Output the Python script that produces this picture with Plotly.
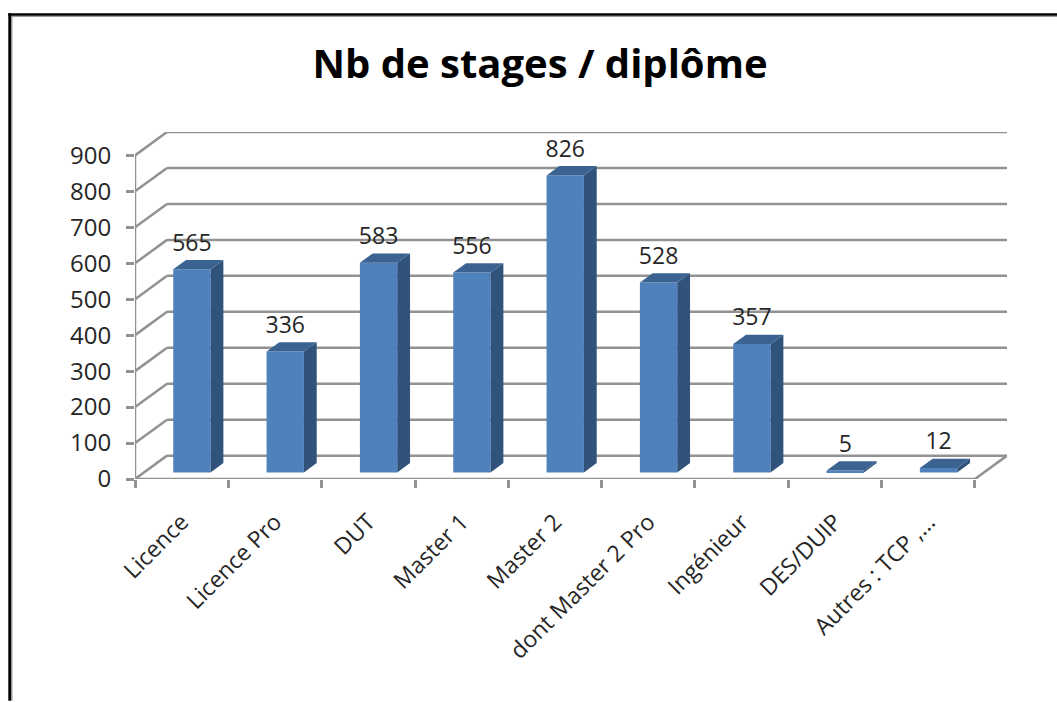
import plotly.graph_objects as go

categories = ["Licence", "Licence Pro", "DUT", "Master 1", "Master 2",
              "dont Master 2 Pro", "Ingénieur", "DES/DUIP", "Autres : TCP ,..."]
values = [565, 336, 583, 556, 826, 528, 357, 5, 12]
y_ticks = [0, 100, 200, 300, 400, 500, 600, 700, 800, 900]
title_text = "Nb de stages / diplôme"

W, H = 1057, 702
L, R, T, B = 135, 1007, 131.5, 479.5
FONT = "Open Sans"
TXT = "#262626"
GRID = "#929292"
FRONT, SIDE, TOP = "#4f81bd", "#31527b", "#3a6391"

# oblique projection of the depth axis, in data units
DEPTH_X, DEPTH_Y = 0.343, 65.0
BAR_W = 0.40
F0, F1 = 0.32, 0.72   # bar front / back position in the depth
X_MIN, X_MAX = -0.5, 8.843
Y_MAX = 965
n = len(categories)
X_END = n - 0.5

fig = go.Figure()
xs = list(range(n))
base = F0 * DEPTH_Y - 2.5
off = F0 * DEPTH_X
ddx = (F1 - F0) * DEPTH_X
ddy = (F1 - F0) * DEPTH_Y

fig.add_trace(go.Bar(x=[i + off for i in xs], y=values, base=[base] * n, width=BAR_W,
                     marker=dict(color=FRONT, line=dict(width=0)), hoverinfo="skip"))

for i, v in zip(xs, values):
    x0 = i + off - BAR_W / 2
    x1 = i + off + BAR_W / 2
    top = base + v
    fig.add_trace(go.Scatter(x=[x1, x1 + ddx, x1 + ddx, x1, x1],
                             y=[base, base + ddy, top + ddy, top, base],
                             mode="lines", fill="toself", fillcolor=SIDE,
                             line=dict(width=0), hoverinfo="skip"))
    fig.add_trace(go.Scatter(x=[x0, x1, x1 + ddx, x0 + ddx, x0],
                             y=[top, top, top + ddy, top + ddy, top],
                             mode="lines", fill="toself", fillcolor=TOP,
                             line=dict(width=0), hoverinfo="skip"))

fig.add_trace(go.Scatter(x=[i + off for i in xs], y=[base + v + 68 for v in values],
                         mode="text", text=[str(v) for v in values],
                         textposition="middle center",
                         textfont=dict(family=FONT, size=23, color=TXT), hoverinfo="skip"))

shapes = []
def seg(x0, y0, x1, y1):
    shapes.append(dict(type="line", xref="x", yref="y", x0=x0, y0=y0, x1=x1, y1=y1,
                       layer="below", line=dict(color=GRID, width=2.5)))

for t in y_ticks:
    seg(X_MIN, t, X_MIN + DEPTH_X, t + DEPTH_Y)
    seg(X_MIN + DEPTH_X, t + DEPTH_Y, X_END + DEPTH_X, t + DEPTH_Y)
seg(X_MIN, 0, X_MIN, y_ticks[-1])
seg(X_MIN, 0, X_END, 0)
seg(X_END, 0, X_END + DEPTH_X, DEPTH_Y)

# page frame
def px(v): return (v - L) / (R - L)
def py(v): return (B - v) / (B - T)
def rect(x0, y0, x1, y1, c):
    shapes.append(dict(type="rect", xref="paper", yref="paper", x0=px(x0), x1=px(x1),
                       y0=py(y0), y1=py(y1), fillcolor=c, line=dict(width=0), layer="above"))
rect(11, 15, 12.5, H, "#9a9a9a")
rect(11, 15, W, 16.2, "#9a9a9a")
rect(8.3, 12.3, 11, H, "#000000")
rect(8.3, 12.3, W, 15, "#000000")

fig.update_layout(
    width=W, height=H, autosize=False,
    margin=dict(l=L, r=W - R, t=T, b=H - B, pad=0),
    paper_bgcolor="white", plot_bgcolor="white",
    showlegend=False, shapes=shapes,
    title=dict(text=title_text, x=540 / W, xanchor="center", xref="container",
               y=1 - 64 / H, yanchor="middle", yref="container",
               font=dict(family=FONT, size=40, color="#000000", weight="bold")),
    xaxis=dict(range=[X_MIN, X_MAX], tickmode="array", tickvals=xs, ticktext=categories,
               tickangle=-45, ticks="", showgrid=False, zeroline=False, showline=False,
               tickfont=dict(family=FONT, size=23, color=TXT), ticklabelstandoff=24,
               minor=dict(tick0=-0.5, dtick=1, ticks="outside", ticklen=8, tickwidth=2.5,
                          tickcolor=GRID, showgrid=False)),
    yaxis=dict(range=[0, Y_MAX], tickmode="array", tickvals=y_ticks, ticks="outside",
               ticklen=8, tickwidth=2.5, tickcolor=GRID, showgrid=False, zeroline=False,
               showline=False, ticklabelstandoff=10,
               tickfont=dict(family=FONT, size=24, color=TXT)),
)

fig.write_html("out.html", config=dict(displayModeBar=False),
               post_script="document.body.style.margin='0';document.body.style.overflow='hidden';")
